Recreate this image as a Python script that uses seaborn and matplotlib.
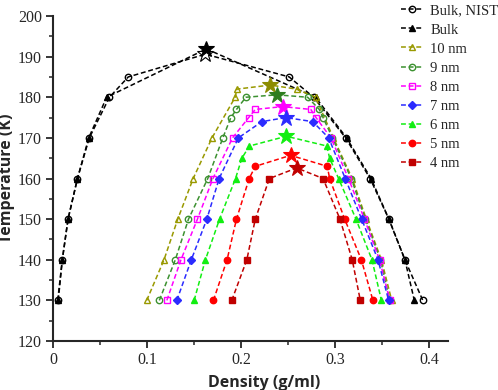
import matplotlib
matplotlib.use("Agg")
import matplotlib.pyplot as plt
import seaborn as sns
import pandas as pd
from matplotlib.ticker import MultipleLocator
from matplotlib.font_manager import FontProperties

# ---------------- data ----------------
series_names = ["Bulk, NIST", "Bulk", "10 nm", "9 nm", "8 nm", "7 nm", "6 nm", "5 nm", "4 nm"]

nist_T_left = [130, 140, 150, 160, 170, 180, 185]
nist_d_left = [0.0056, 0.0099, 0.016, 0.026, 0.0386, 0.060, 0.080]
nist_crit = (0.162, 190.6)
nist_T_right = [185, 180, 170, 160, 150, 140, 130]
nist_d_right = [0.251, 0.277, 0.311, 0.337, 0.357, 0.374, 0.393]

bulk_T_left = [130, 140, 150, 160, 170, 180]
bulk_d_left = [0.005, 0.0099, 0.016, 0.026, 0.038, 0.057]
bulk_crit = (0.163, 191.9)
bulk_T_right = [180, 170, 160, 150, 140, 130]
bulk_d_right = [0.279, 0.312, 0.338, 0.357, 0.374, 0.384]

nm10_T_left = [130, 140, 150, 160, 170, 180, 182]
nm10_d_left = [0.0996, 0.118, 0.1326, 0.149, 0.169, 0.1936, 0.1954]
nm10_crit = (0.231, 183.0)
nm10_T_right = [182, 180, 170, 160, 150, 140, 130]
nm10_d_right = [0.259, 0.279, 0.298, 0.318, 0.333, 0.349, 0.360]

nm9_T_left = [130, 140, 150, 160, 170, 175, 177, 180]
nm9_d_left = [0.113, 0.130, 0.144, 0.1645, 0.1805, 0.189, 0.195, 0.205]
nm9_crit = (0.238, 180.6)
nm9_T_right = [180, 177, 175, 170, 160, 150, 140, 130]
nm9_d_right = [0.2706, 0.283, 0.287, 0.297, 0.317, 0.332, 0.348, 0.358]

nm8_T_left = [130, 140, 150, 160, 170, 175, 177]
nm8_d_left = [0.121, 0.136, 0.1535, 0.170, 0.1908, 0.208, 0.215]
nm8_crit = (0.244, 177.7)
nm8_T_right = [177, 175, 170, 160, 150, 140, 130]
nm8_d_right = [0.274, 0.2795, 0.2954, 0.314, 0.331, 0.347, 0.358]

nm7_T_left = [130, 140, 150, 160, 170, 174]
nm7_d_left = [0.1316, 0.147, 0.1635, 0.1766, 0.197, 0.222]
nm7_crit = (0.2475, 175.0)
nm7_T_right = [174, 170, 160, 150, 140, 130]
nm7_d_right = [0.276, 0.293, 0.3106, 0.328, 0.3454, 0.3567]

nm6_T_left = [130, 140, 150, 160, 165, 168]
nm6_d_left = [0.150, 0.162, 0.177, 0.194, 0.2007, 0.2088]
nm6_crit = (0.248, 170.4)
nm6_T_right = [168, 165, 160, 150, 140, 130]
nm6_d_right = [0.291, 0.294, 0.3035, 0.322, 0.339, 0.349]

nm5_T_left = [130, 140, 150, 160, 163]
nm5_d_left = [0.1705, 0.185, 0.195, 0.2085, 0.215]
nm5_crit = (0.2525, 165.7)
nm5_T_right = [163, 160, 150, 140, 130]
nm5_d_right = [0.2915, 0.294, 0.310, 0.3277, 0.340]

nm4_T_left = [130, 140, 150, 160]
nm4_d_left = [0.190, 0.206, 0.215, 0.230]
nm4_crit = (0.259, 162.6)
nm4_T_right = [160, 150, 140, 130]
nm4_d_right = [0.287, 0.305, 0.318, 0.3266]

y_ticks = [120, 130, 140, 150, 160, 170, 180, 190, 200]
x_ticks = [0, 0.1, 0.2, 0.3, 0.4]
x_tick_labels = ["0", "0.1", "0.2", "0.3", "0.4"]

all_series = [
    (nist_d_left, nist_T_left, nist_crit, nist_d_right, nist_T_right),
    (bulk_d_left, bulk_T_left, bulk_crit, bulk_d_right, bulk_T_right),
    (nm10_d_left, nm10_T_left, nm10_crit, nm10_d_right, nm10_T_right),
    (nm9_d_left, nm9_T_left, nm9_crit, nm9_d_right, nm9_T_right),
    (nm8_d_left, nm8_T_left, nm8_crit, nm8_d_right, nm8_T_right),
    (nm7_d_left, nm7_T_left, nm7_crit, nm7_d_right, nm7_T_right),
    (nm6_d_left, nm6_T_left, nm6_crit, nm6_d_right, nm6_T_right),
    (nm5_d_left, nm5_T_left, nm5_crit, nm5_d_right, nm5_T_right),
    (nm4_d_left, nm4_T_left, nm4_crit, nm4_d_right, nm4_T_right),
]

# ---------------- styles ----------------
colors = ["#000000", "#000000", "#999900", "#3C9130", "#FF00FF", "#2B2BFF", "#11EE11", "#FF0000", "#C00000"]
markers = ["o", "^", "^", "o", "s", "D", "^", "o", "s"]
filled = [False, True, False, False, False, True, True, True, True]
star_filled = [False, True, True, True, True, True, True, True, True]
star_colors = ["#000000", "#000000", "#8C8C00", "#2E7D1E", "#FF00FF", "#2B2BFF", "#11EE11", "#FF0000", "#C00000"]

sns.set_style("ticks")
plt.rcParams["font.family"] = "serif"
plt.rcParams["font.serif"] = ["Liberation Serif", "DejaVu Serif"]
plt.rcParams["axes.linewidth"] = 1.5

fig = plt.figure(figsize=(4.98, 3.90), dpi=100)
ax = fig.add_axes([0.1064, 0.1256, 0.7936, 0.8334])

for i, (name, s) in enumerate(zip(series_names, all_series)):
    dl, tl, crit, dr, tr = s
    d = list(dl) + [crit[0]] + list(dr)
    t = list(tl) + [crit[1]] + list(tr)
    df = pd.DataFrame({"density": d, "T": t})
    n = len(d)
    mk_idx = [k for k in range(n) if k != len(dl)]
    c = colors[i]
    sns.lineplot(data=df, x="density", y="T", sort=False, estimator=None, ax=ax,
                 color=c, linestyle=(0, (3.2, 1.8)), linewidth=1.1,
                 marker=markers[i], markersize=4.6 if markers[i] != "D" else 3.9,
                 markerfacecolor=c if filled[i] else "none", markeredgecolor=c,
                 markeredgewidth=1.0, markevery=mk_idx, label=name)
    sc = star_colors[i]
    ax.plot([crit[0]], [crit[1]], marker="*", markersize=12, linestyle="none",
            markerfacecolor=sc if star_filled[i] else "white", markeredgecolor=sc,
            markeredgewidth=0.8, zorder=5)

ax.set_xlim(0, 0.42)
ax.set_ylim(120, 200)
ax.set_xticks(x_ticks)
ax.set_xticklabels(x_tick_labels)
ax.set_yticks(y_ticks)
ax.xaxis.set_minor_locator(MultipleLocator(0.05))
ax.yaxis.set_minor_locator(MultipleLocator(5))
ax.tick_params(which="major", direction="out", length=5, width=1.3, pad=3)
ax.tick_params(which="minor", direction="out", length=3, width=1.1)
for lab in ax.get_xticklabels() + ax.get_yticklabels():
    lab.set_fontproperties(FontProperties(family="Liberation Serif", size=11.5))
sns.despine(ax=ax)

lab_font = dict(family=["Open Sans", "DejaVu Sans"], weight="bold", size=11.5)
ax.set_xlabel("Density (g/ml)", fontdict=lab_font)
ax.set_ylabel("Temperature (K)", fontdict=lab_font)
ax.xaxis.set_label_coords(0.534, -0.105)
ax.yaxis.set_label_coords(-0.097, 0.5)

leg = ax.legend(loc="upper left", bbox_to_anchor=(0.866, 1.054), frameon=False,
                prop=FontProperties(family="Liberation Serif", size=10.5),
                handlelength=1.5, handletextpad=0.5, labelspacing=0.40,
                borderaxespad=0)

fig.savefig("out.png", dpi=100)
